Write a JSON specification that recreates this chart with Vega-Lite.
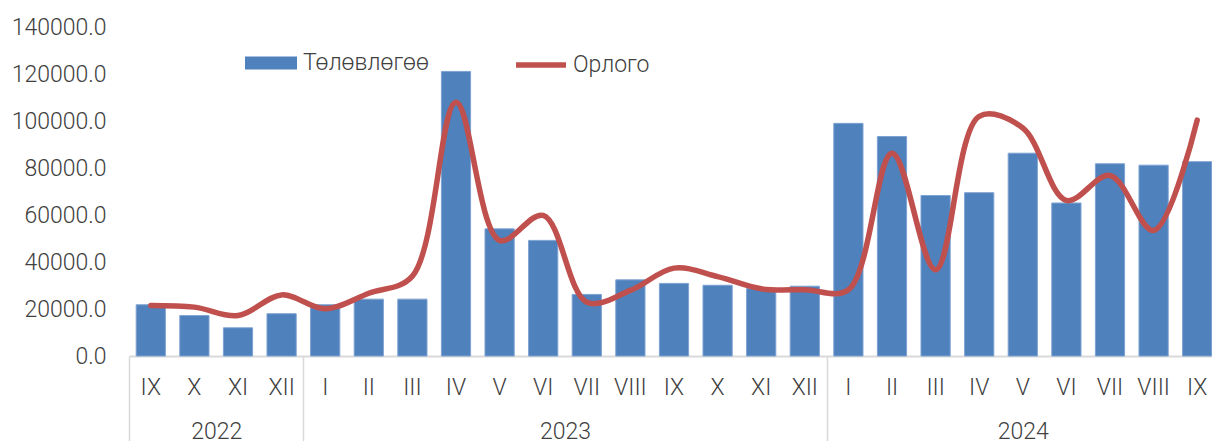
{
  "$schema": "https://vega.github.io/schema/vega-lite/v6.json",
  "autosize": {"type": "none"},
  "padding": {"left": 129, "top": 27, "right": 0, "bottom": 85},
  "width": 1083,
  "height": 329,
  "background": "white",
  "config": {
    "view": {"stroke": null},
    "font": "Roboto",
    "axis": {"labelFont": "Roboto", "labelFontSize": 23, "labelFontWeight": 300, "labelColor": "#404040", "grid": false, "title": null},
    "legend": {"labelFont": "Roboto", "labelFontSize": 23, "labelFontWeight": 300, "labelColor": "#404040", "title": null}
  },
  "data": {
    "values": [
      {"key": "2022-IX", "plan": 21800, "actual": 21500},
      {"key": "2022-X", "plan": 17200, "actual": 20800},
      {"key": "2022-XI", "plan": 12000, "actual": 17200},
      {"key": "2022-XII", "plan": 18000, "actual": 26000},
      {"key": "2023-I", "plan": 21800, "actual": 20100},
      {"key": "2023-II", "plan": 24200, "actual": 26700},
      {"key": "2023-III", "plan": 24200, "actual": 34000},
      {"key": "2023-IV", "plan": 121100, "actual": 108000},
      {"key": "2023-V", "plan": 54100, "actual": 49200},
      {"key": "2023-VI", "plan": 49200, "actual": 59800},
      {"key": "2023-VII", "plan": 26200, "actual": 22900},
      {"key": "2023-VIII", "plan": 32400, "actual": 27900},
      {"key": "2023-IX", "plan": 30900, "actual": 37400},
      {"key": "2023-X", "plan": 30100, "actual": 33800},
      {"key": "2023-XI", "plan": 28700, "actual": 28600},
      {"key": "2023-XII", "plan": 29700, "actual": 28200},
      {"key": "2024-I", "plan": 99000, "actual": 28200},
      {"key": "2024-II", "plan": 93400, "actual": 86300},
      {"key": "2024-III", "plan": 68300, "actual": 36700},
      {"key": "2024-IV", "plan": 69500, "actual": 102000},
      {"key": "2024-V", "plan": 86300, "actual": 97000},
      {"key": "2024-VI", "plan": 65100, "actual": 66200},
      {"key": "2024-VII", "plan": 81800, "actual": 76800},
      {"key": "2024-VIII", "plan": 81200, "actual": 53400},
      {"key": "2024-IX", "plan": 82700, "actual": 100400}
    ]
  },
  "resolve": {"axis": {"x": "independent"}},
  "layer": [
    {
      "mark": {"type": "bar", "stroke": "#7EA3D3", "strokeWidth": 1},
      "encoding": {
        "x": {
          "field": "key", "type": "nominal", "sort": null,
          "scale": {"range": [0, 1090], "paddingInner": 0.33, "paddingOuter": 0.165},
          "axis": {
            "orient": "bottom",
            "labelExpr": "split(datum.value, '-')[1]",
            "labelAngle": 0,
            "ticks": false,
            "domain": true,
            "domainColor": "#D9D9D9",
            "domainWidth": 2,
            "labelPadding": 20
          }
        },
        "y": {
          "field": "plan", "type": "quantitative",
          "scale": {"domain": [0, 140000], "nice": false},
          "axis": {
            "values": [0, 20000, 40000, 60000, 80000, 100000, 120000, 140000],
            "format": ".1f",
            "ticks": false,
            "domain": false,
            "labelPadding": 23
          }
        },
        "fill": {
          "datum": "Төлөвлөгөө",
          "scale": {"range": ["#4F81BD"]},
          "legend": {
            "orient": "none", "legendX": 116, "legendY": 10,
            "symbolType": "M-1,-0.25H1V0.25H-1Z", "symbolSize": 2704,
            "symbolStrokeWidth": 0, "labelOffset": 6
          }
        }
      }
    },
    {
      "mark": {"type": "line", "interpolate": "catmull-rom", "strokeWidth": 5.5, "strokeCap": "round"},
      "encoding": {
        "x": {
          "field": "key", "type": "nominal", "sort": null,
          "axis": {
            "orient": "bottom",
            "labelExpr": "datum.value == '2022-XI' ? '2022' : datum.value == '2023-VII' ? '2023' : datum.value == '2024-V' ? '2024' : ''",
            "labelAngle": 0,
            "labelOffset": {"condition": {"test": "datum.value == '2024-V'", "value": 7.2}, "value": -14.6},
            "domain": false,
            "ticks": true,
            "bandPosition": 0,
            "tickExtra": false,
            "tickOffset": -7.2,
            "tickSize": 86,
            "tickWidth": 1.5,
            "tickColor": "#D9D9D9",
            "tickOpacity": {"condition": {"test": "datum.value == '2022-IX' || datum.value == '2023-I' || datum.value == '2024-I'", "value": 1}, "value": 0},
            "labelPadding": -22
          }
        },
        "y": {"field": "actual", "type": "quantitative"},
        "stroke": {
          "datum": "Орлого",
          "scale": {"range": ["#C0504D"]},
          "legend": {
            "orient": "none", "legendX": 384, "legendY": 10,
            "symbolType": "stroke", "symbolSize": 2500,
            "symbolStrokeWidth": 5.5, "labelOffset": 4
          }
        }
      }
    }
  ]
}
